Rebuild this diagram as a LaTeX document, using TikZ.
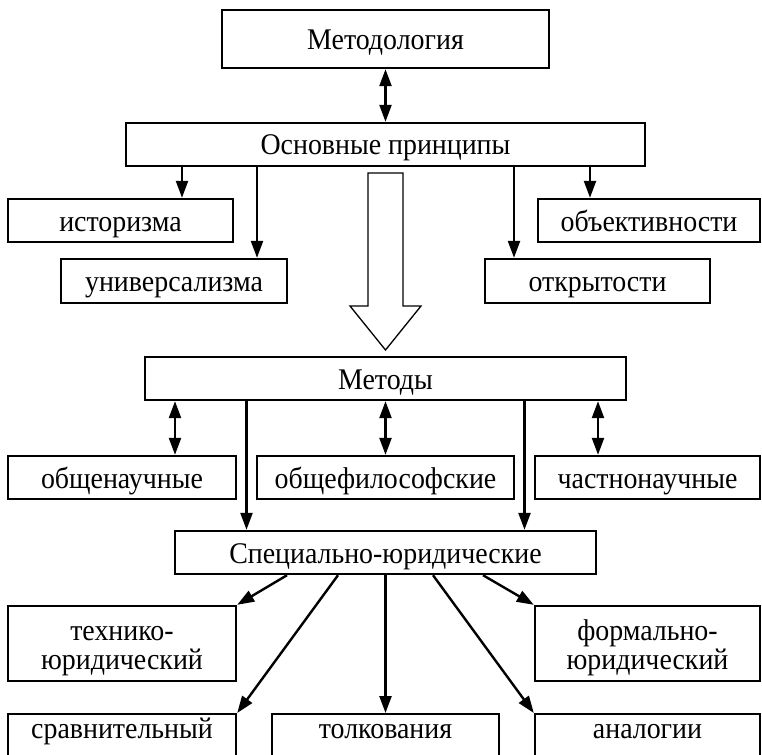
\documentclass[tikz,border=0pt]{standalone}
\usepackage{fontspec}
\setmainfont{Liberation Serif}[FakeStretch=0.93]
\usetikzlibrary{arrows.meta,calc}
\begin{document}
\begin{tikzpicture}[x=1pt,y=-1pt,
  txtfont/.style={font=\fontsize{30}{31}\selectfont},
  box/.style={draw, line width=2.4pt, inner sep=0pt, minimum height=43pt, text height=22pt, text depth=1pt, txtfont},
  bbox/.style={draw, line width=2.4pt, inner sep=0pt, anchor=north, text height=24pt, text depth=36pt, txtfont},
  lbl/.style={inner sep=0pt, txtfont},
  arr/.style={line width=2.4pt, -{Triangle[length=17pt,width=12pt]}},
  darr/.style={line width=2.4pt, {Triangle[length=17pt,width=12pt]}-{Triangle[length=17pt,width=12pt]}},
  hollow/.style={line width=1.3pt, line join=miter}
]
\useasboundingbox (0,0) rectangle (762,754);
\clip (0,0) rectangle (762,754);

% boxes
\node[box, minimum width=327pt, minimum height=58pt] (metod) at (385.5,39) {Методология};
\node[box, minimum width=519pt] (osn) at (385.5,144.5) {Основные принципы};
\node[box, minimum width=225pt] (ist) at (120.5,220.5) {историзма};
\node[box, minimum width=226pt, minimum height=44pt] (univ) at (174,281) {универсализма};
\node[box, minimum width=222pt] (obj) at (649,220.5) {объективности};
\node[box, minimum width=225pt, minimum height=44pt] (otkr) at (597.5,281) {открытости};
\node[box, minimum width=481pt] (metody) at (385.5,378.5) {Методы};
\node[box, minimum width=228pt] (obsh) at (122,477.5) {общенаучные};
\node[box, minimum width=257pt] (phil) at (385.5,477.5) {общефилософские};
\node[box, minimum width=225pt] (chast) at (647.5,477.5) {частнонаучные};
\node[box, minimum width=421pt] (spec) at (385.5,552.5) {Специально-юридические};
\node[box, minimum width=228pt, minimum height=75pt] (tech) at (122,643.5) {};
\node[lbl, anchor=base] (tech1) at (122,640) {технико-};
\node[lbl, anchor=base] (tech2) at (122,669) {юридический};
\node[box, minimum width=225pt, minimum height=75pt] (formal) at (647.5,643.5) {};
\node[lbl, anchor=base] (formal1) at (647.5,640) {формально-};
\node[lbl, anchor=base] (formal2) at (647.5,669) {юридический};
\node[bbox, minimum width=228pt] (sravn) at (122,713) {сравнительный};
\node[bbox, minimum width=227pt] (tolk) at (385.5,713) {толкования};
\node[bbox, minimum width=225pt] (analog) at (647.5,713) {аналогии};

% hollow arrow
\draw[hollow] (368,173) -- (368,306) -- (350,306) -- (385.5,350) -- (421,306) -- (403,306) -- (403,173) -- cycle;

% connectors
\draw[darr] (metod.south) -- (osn.north);
\draw[arr] ([xshift=61.5pt]osn.south -| ist.north) -- ([xshift=61.5pt]ist.north);
\draw[arr] ([xshift=83pt]osn.south -| univ.north) -- ([xshift=83pt]univ.north);
\draw[arr] ([xshift=-83.5pt]osn.south -| otkr.north) -- ([xshift=-83.5pt]otkr.north);
\draw[arr] ([xshift=-59pt]osn.south -| obj.north) -- ([xshift=-59pt]obj.north);

\draw[darr] ([xshift=53pt]metody.south -| obsh.north) -- ([xshift=53pt]obsh.north);
\draw[darr] (metody.south) -- (phil.north);
\draw[darr] ([xshift=-49.5pt]metody.south -| chast.north) -- ([xshift=-49.5pt]chast.north);
\draw[arr] ([xshift=-139pt]metody.south) -- ([xshift=-139pt]spec.north);
\draw[arr] ([xshift=139pt]metody.south) -- ([xshift=139pt]spec.north);

\draw[arr] ([xshift=-98.5pt]spec.south) -- (tech.north east);
\draw[arr] ([xshift=-47.5pt]spec.south) -- (sravn.north east);
\draw[arr] (spec.south) -- (tolk.north);
\draw[arr] ([xshift=47.5pt]spec.south) -- (analog.north west);
\draw[arr] ([xshift=97.5pt]spec.south) -- (formal.north west);
\end{tikzpicture}
\end{document}
